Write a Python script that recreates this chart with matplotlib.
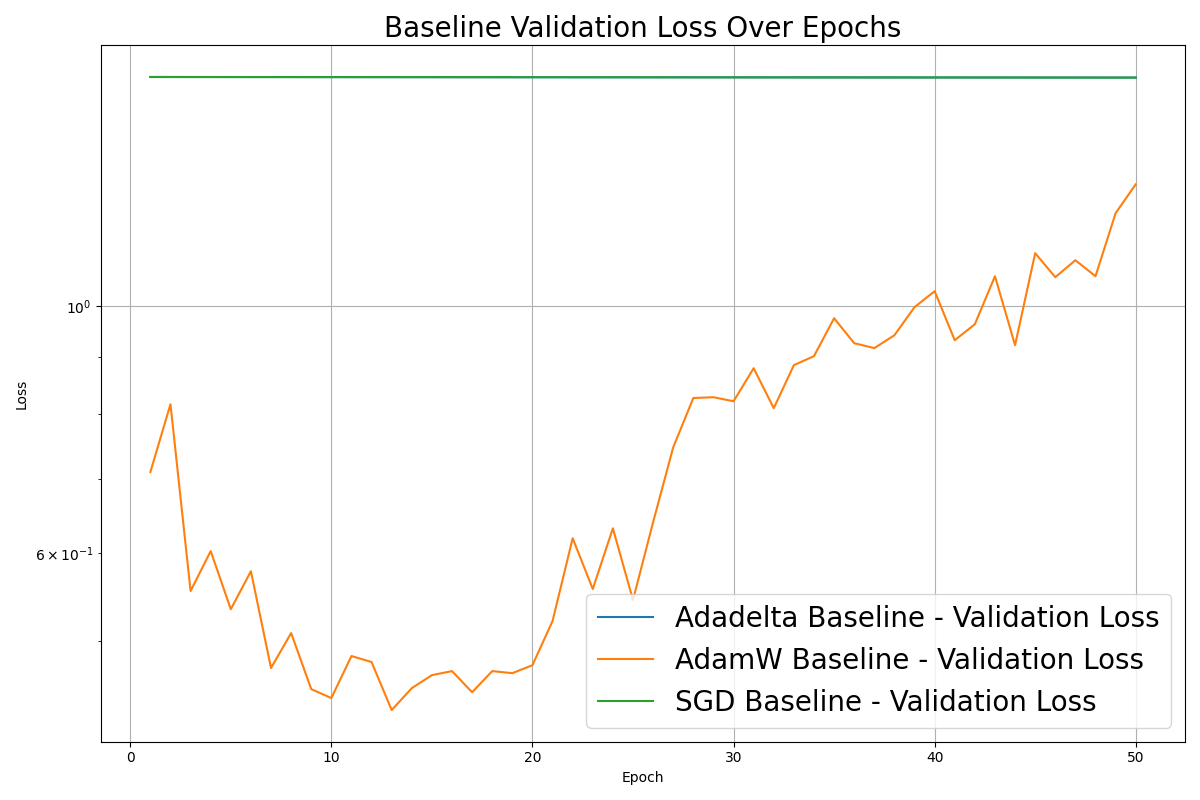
import matplotlib
matplotlib.use("Agg")
import matplotlib.pyplot as plt

epochs = list(range(1, 51))
adamw = [0.7095, 0.8164, 0.5546, 0.6024, 0.5341, 0.5778, 0.4729, 0.5084, 0.4527, 0.4444,
         0.4848, 0.4788, 0.4335, 0.4536, 0.4660, 0.4699, 0.4498, 0.4699, 0.4679, 0.4757,
         0.5212, 0.6186, 0.5569, 0.6315, 0.5444, 0.6395, 0.7467, 0.8269, 0.8283, 0.8214,
         0.8795, 0.8097, 0.8851, 0.9018, 0.9754, 0.9263, 0.9169, 0.9417, 0.9980, 1.0315,
         0.9320, 0.9634, 1.0640, 0.9225, 1.1160, 1.0619, 1.0998, 1.0640, 1.2124, 1.2869]
sgd_start, sgd_end = 1.607, 1.605
sgd = [sgd_start + (sgd_end - sgd_start) * (e - 1) / 49 for e in epochs]
adadelta = sgd

fig, ax = plt.subplots(figsize=(12, 8), dpi=100)
ax.plot(epochs, adadelta, label="Adadelta Baseline - Validation Loss")
ax.plot(epochs, adamw, label="AdamW Baseline - Validation Loss")
ax.plot(epochs, sgd, label="SGD Baseline - Validation Loss")
ax.set_yscale("log")
ax.set_title("Baseline Validation Loss Over Epochs", fontsize=20)
ax.set_xlabel("Epoch")
ax.set_ylabel("Loss")
ax.grid(True)
ax.legend(fontsize=20, loc="lower right")
fig.tight_layout()
fig.savefig("out.png")
